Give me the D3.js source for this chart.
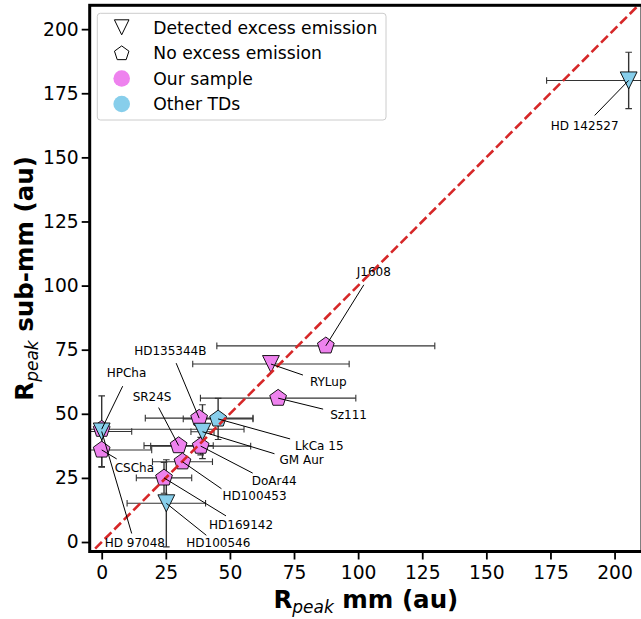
<!DOCTYPE html>
<html>
<head>
<meta charset="utf-8">
<script src="https://cdn.jsdelivr.net/npm/d3@7"></script>
<style>
  html, body { margin: 0; padding: 0; background: #fff; }
  svg { display: block; font-family: "DejaVu Sans", sans-serif; }
</style>
</head>
<body>
<svg id="chart" width="641" height="619"></svg>
<script>
// ---------------- data ----------------
const names   = ["J1608", "RYLup", "Sz111", "HD135344B", "SR24S", "DoAr44", "HD100453", "HD169142", "CSCha", "HPCha",
                 "HD 142527", "LkCa 15", "GM Aur", "HD100546", "HD 97048"];
const rPeakMm    = [87.4, 66.0, 68.8, 38.0, 30.0, 38.6, 31.5, 24.3, 0.0, 0.0,
                    205.5, 45.4, 39.3, 25.2, 0.0];
const rPeakSubmm = [76.5, 69.4, 56.1, 48.3, 37.6, 37.4, 31.3, 25.0, 35.9, 44.0,
                    180.0, 48.0, 43.0, 15.1, 43.1];
const errMm      = [42.5, 30.5, 30.3, 21.0, 13.5, 19.5, 11.7, 10.8, 19.5, 55.5,
                    32.0, 13.6, 4.5, 15.3, 11.7];
const errSubmm   = [0, 0, 0, 0, 0, 3.4, 0, 6.0, 6.5, 0,
                    11.0, 8.0, 10.5, 17.0, 13.9];
const group      = ["our","our","our","our","our","our","our","our","our","our",
                    "other","other","other","other","other"];
const excess     = [false, true, false, false, false, false, false, false, false, false,
                    true, false, true, true, true];
const xTicks = [0, 25, 50, 75, 100, 125, 150, 175, 200];
const yTicks = [0, 25, 50, 75, 100, 125, 150, 175, 200];
const legendLabels = ["Detected excess emission", "No excess emission", "Our sample", "Other TDs"];

// label layout (pixel offsets from the point): text anchor (tx,ty), leader start (lx,ly)
const labelLayout = {
  "J1608":     {tx: 31,  ty: -70,  lx: 38,  ly: -61},
  "RYLup":     {tx: 39,  ty: 22,   lx: 32,  ly: 11},
  "Sz111":     {tx: 52,  ty: 21,   lx: 45,  ly: 11},
  "HD135344B": {tx: -65, ty: -63,  lx: -23, ly: -55},
  "SR24S":     {tx: -46, ty: -45,  lx: -20, ly: -38},
  "DoAr44":    {tx: 51,  ty: 39,   lx: 52,  ly: 27},
  "HD100453":  {tx: 40,  ty: 38,   lx: 39,  ly: 27},
  "HD169142":  {tx: 45,  ty: 51,   lx: 62,  ly: 38},
  "CSCha":     {tx: 13,  ty: 22,   lx: 15,  ly: 9},
  "HPCha":     {tx: 5,   ty: -52,  lx: 21,  ly: -43},
  "HD 142527": {tx: -78, ty: 50,   lx: -34, ly: 35},
  "LkCa 15":   {tx: 77,  ty: 31,   lx: 72,  ly: 20},
  "GM Aur":    {tx: 77,  ty: 32,   lx: 72,  ly: 22},
  "HD100546":  {tx: 20,  ty: 44,   lx: 40,  ly: 32},
  "HD 97048":  {tx: 3,   ty: 116,  lx: 30,  ly: 102}
};

const colors = {our: "#ee82ee", other: "#87ceeb"};

// ---------------- setup ----------------
const svg = d3.select("#chart");
const L = 89.7, R = 642, T = 5.3, B = 551.5;
const x = d3.scaleLinear().domain([-4.68, 210.7]).range([L, R]);
const y = d3.scaleLinear().domain([-3.7, 209.3]).range([B, T]);

svg.append("defs").append("clipPath").attr("id", "clip")
  .append("rect").attr("x", L).attr("y", T).attr("width", R - L).attr("height", B - T);

const pts = names.map((n, i) => ({
  name: n, x: rPeakMm[i], y: rPeakSubmm[i], ex: errMm[i], ey: errSubmm[i],
  g: group[i], tri: excess[i]
}));

function pentagon(r) {
  const p = [];
  for (let k = 0; k < 5; k++) {
    const a = (-90 + 72 * k) * Math.PI / 180;
    p.push([r * Math.cos(a), r * Math.sin(a)]);
  }
  return "M" + p.map(d => d.join(",")).join("L") + "Z";
}
function triDown(w, h) {
  return `M0,${h}L${-w},${-h}L${w},${-h}Z`;
}

const plot = svg.append("g").attr("clip-path", "url(#clip)");

// error bars
const eb = plot.append("g").attr("stroke", "#333").attr("stroke-width", 1.1).attr("fill", "none");
const cap = 3.3;
pts.forEach(d => {
  const cx = x(d.x), cy = y(d.y);
  if (d.ex > 0) {
    const x0 = x(d.x - d.ex), x1 = x(d.x + d.ex);
    eb.append("line").attr("x1", x0).attr("x2", x1).attr("y1", cy).attr("y2", cy);
    eb.append("line").attr("x1", x0).attr("x2", x0).attr("y1", cy - cap).attr("y2", cy + cap);
    eb.append("line").attr("x1", x1).attr("x2", x1).attr("y1", cy - cap).attr("y2", cy + cap);
  }
  if (d.ey > 0) {
    const y0 = y(d.y - d.ey), y1 = y(d.y + d.ey);
    eb.append("line").attr("x1", cx).attr("x2", cx).attr("y1", y0).attr("y2", y1).attr("stroke-width", 1.4);
    eb.append("line").attr("x1", cx - cap).attr("x2", cx + cap).attr("y1", y0).attr("y2", y0);
    eb.append("line").attr("x1", cx - cap).attr("x2", cx + cap).attr("y1", y1).attr("y2", y1);
  }
});

// markers: our sample first, then other TDs
const order = pts.filter(d => d.g === "our").concat(pts.filter(d => d.g === "other"));
plot.selectAll("path.mk").data(order).enter().append("path")
  .attr("class", "mk")
  .attr("transform", d => `translate(${x(d.x)},${y(d.y)})`)
  .attr("d", d => d.tri ? triDown(8.4, 8.5) : pentagon(8.8))
  .attr("fill", d => colors[d.g])
  .attr("stroke", "#000").attr("stroke-width", 0.9);

// one-to-one line
plot.append("line")
  .attr("x1", x(-10)).attr("y1", y(-10)).attr("x2", x(230)).attr("y2", y(230))
  .attr("stroke", "#d62728").attr("stroke-width", 2.6).attr("stroke-dasharray", "9.5,4");

// annotations
const ann = svg.append("g");
pts.forEach(d => {
  const lay = labelLayout[d.name];
  const cx = x(d.x), cy = y(d.y);
  ann.append("line")
    .attr("x1", cx + lay.lx).attr("y1", cy + lay.ly).attr("x2", cx).attr("y2", cy)
    .attr("stroke", "#000").attr("stroke-width", 1);
  ann.append("text")
    .attr("x", cx + lay.tx).attr("y", cy + lay.ty)
    .attr("font-size", "12px").attr("fill", "#000")
    .text(d.name);
});

// axes
const xAxis = svg.append("g").attr("transform", `translate(0,${B})`)
  .call(d3.axisBottom(x).tickValues(xTicks).tickSize(8).tickPadding(6).tickSizeOuter(0));
const yAxis = svg.append("g").attr("transform", `translate(${L},0)`)
  .call(d3.axisLeft(y).tickValues(yTicks).tickSize(8).tickPadding(3).tickSizeOuter(0));
[xAxis, yAxis].forEach(a => {
  a.select(".domain").remove();
  a.selectAll(".tick line").attr("stroke", "#000").attr("stroke-width", 1.8);
  a.selectAll(".tick text").attr("font-size", "18.7px").attr("fill", "#000")
    .attr("font-family", "DejaVu Sans, sans-serif");
});

// spines
svg.append("rect").attr("x", L).attr("y", T).attr("width", R - L).attr("height", B - T)
  .attr("fill", "none").attr("stroke", "#000").attr("stroke-width", 3);

// axis labels
const xl = svg.append("text").attr("x", (L + R) / 2 + 0).attr("y", 608)
  .attr("text-anchor", "middle").attr("font-size", "24.5px").attr("font-weight", "bold");
xl.append("tspan").text("R");
xl.append("tspan").attr("font-size", "17px").attr("font-weight", "normal").attr("font-style", "italic")
  .attr("dy", 5).text("peak");
xl.append("tspan").attr("dy", -5).text(" mm (au)");

const yl = svg.append("text").attr("transform", `translate(33,${(T + B) / 2}) rotate(-90)`)
  .attr("text-anchor", "middle").attr("font-size", "24.5px").attr("font-weight", "bold");
yl.append("tspan").text("R");
yl.append("tspan").attr("font-size", "17px").attr("font-weight", "normal").attr("font-style", "italic")
  .attr("dy", 5).text("peak");
yl.append("tspan").attr("dy", -5).text(" sub-mm (au)");

// legend
const lg = svg.append("g");
lg.append("rect").attr("x", 97.3).attr("y", 13.3).attr("width", 288.7).attr("height", 106.7)
  .attr("rx", 3).attr("fill", "#fff").attr("fill-opacity", 0.8)
  .attr("stroke", "#cccccc").attr("stroke-width", 1);
const rows = [27.3, 52.7, 78.5, 104];
lg.append("path").attr("transform", `translate(121.7,${rows[0]})`).attr("d", triDown(7.3, 7.5))
  .attr("fill", "#fff").attr("stroke", "#000").attr("stroke-width", 1);
lg.append("path").attr("transform", `translate(121.7,${rows[1] + 0.8})`).attr("d", pentagon(7.6))
  .attr("fill", "#fff").attr("stroke", "#000").attr("stroke-width", 1);
lg.append("circle").attr("cx", 121.7).attr("cy", rows[2]).attr("r", 8.3).attr("fill", colors.our);
lg.append("circle").attr("cx", 121.7).attr("cy", rows[3]).attr("r", 8.3).attr("fill", colors.other);
legendLabels.forEach((t, i) => {
  lg.append("text").attr("x", 153.3).attr("y", rows[i] + 6.2)
    .attr("font-size", "17.2px").attr("fill", "#000").text(t);
});
</script>
</body>
</html>
